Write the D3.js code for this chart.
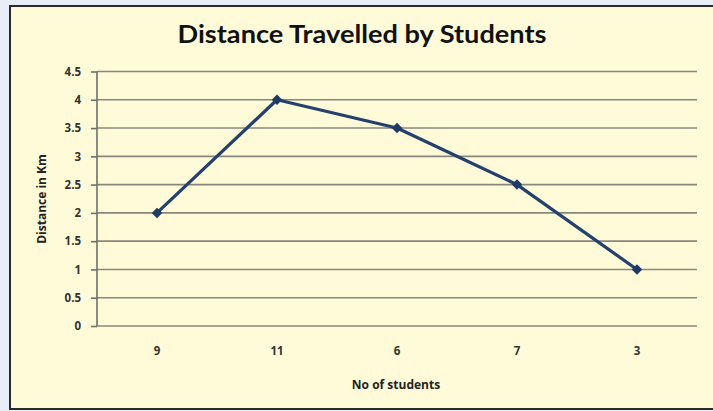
<!DOCTYPE html>
<html><head><meta charset="utf-8">
<script src="https://cdn.jsdelivr.net/npm/d3@7"></script>
<style>
html,body{margin:0;padding:0;background:#e8eef8;}
svg{display:block;}
</style></head>
<body>
<script>
const categories = ["9","11","6","7","3"];
const values = [2,4,3.5,2.5,1];
const yTicks = [0,0.5,1,1.5,2,2.5,3,3.5,4,4.5];
const title = "Distance Travelled by Students";
const xTitle = "No of students";
const yTitle = "Distance in Km";

const W = 713, H = 411;
const svg = d3.select("body").append("svg").attr("width", W).attr("height", H);
svg.append("rect").attr("x",0).attr("y",0).attr("width",W).attr("height",H).attr("fill","#e8eef8");
svg.append("rect").attr("x",10).attr("y",6).attr("width",W+10).attr("height",403)
  .attr("fill","#fffbd9").attr("stroke","#2a2a2a").attr("stroke-width",2);

const pLeft = 97, pRight = 697, pTop = 71.5, pBottom = 326;
const x = d3.scaleBand().domain(categories).range([pLeft,pRight]);
const y = d3.scaleLinear().domain([0,4.5]).range([pBottom, pTop]);

const font = "Lato, 'Open Sans', sans-serif";
const font2 = "'Open Sans', Lato, sans-serif";

// gridlines
svg.append("g").selectAll("line").data(yTicks).join("line")
  .attr("x1", pLeft).attr("x2", pRight)
  .attr("y1", d=>y(d)).attr("y2", d=>y(d))
  .attr("stroke","#87877e").attr("stroke-width",1.6);

// y axis
const yAxis = d3.axisLeft(y).tickValues(yTicks).tickSize(6).tickPadding(10).tickFormat(d3.format("~g"));
const gy = svg.append("g").attr("transform",`translate(${pLeft},0)`).call(yAxis);
gy.select(".domain").attr("stroke","#6f6f68").attr("stroke-width",1.6).attr("d",`M0,${pTop}V${pBottom}`);
gy.selectAll(".tick line").attr("stroke","#6f6f68").attr("stroke-width",1.6);
gy.selectAll(".tick text").attr("font-family",font2).attr("font-weight","bold").attr("font-size",11.5).attr("fill","#333");

// x axis labels
const xAxis = d3.axisBottom(x).tickSize(0).tickPadding(21);
const gx = svg.append("g").attr("transform",`translate(0,${pBottom})`).call(xAxis);
gx.select(".domain").remove();
gx.selectAll(".tick text").attr("font-family",font2).attr("font-weight","bold").attr("font-size",11.5).attr("fill","#333");

// line
const line = d3.line().x((d,i)=>x(categories[i])+x.bandwidth()/2).y(d=>y(d));
svg.append("path").datum(values).attr("d",line).attr("fill","none")
  .attr("stroke","#24406e").attr("stroke-width",3.2).attr("stroke-linejoin","round");
svg.append("g").selectAll("path").data(values).join("path")
  .attr("d", d3.symbol(d3.symbolDiamond2, 70))
  .attr("transform",(d,i)=>`translate(${x(categories[i])+x.bandwidth()/2},${y(d)})`)
  .attr("fill","#1f3a66");

// titles
svg.append("text").attr("x",362).attr("y",43).attr("text-anchor","middle")
  .attr("font-family",font).attr("font-weight","bold").attr("font-size",25)
  .attr("textLength",369).attr("lengthAdjust","spacingAndGlyphs").attr("fill","#111").text(title);
svg.append("text").attr("x",396).attr("y",389).attr("text-anchor","middle")
  .attr("font-family",font2).attr("font-weight","bold").attr("font-size",12).attr("fill","#222").text(xTitle);
svg.append("text").attr("transform","translate(46,199) rotate(-90)").attr("text-anchor","middle")
  .attr("font-family",font2).attr("font-weight","bold").attr("font-size",12).attr("fill","#222").text(yTitle);
</script>
</body></html>
